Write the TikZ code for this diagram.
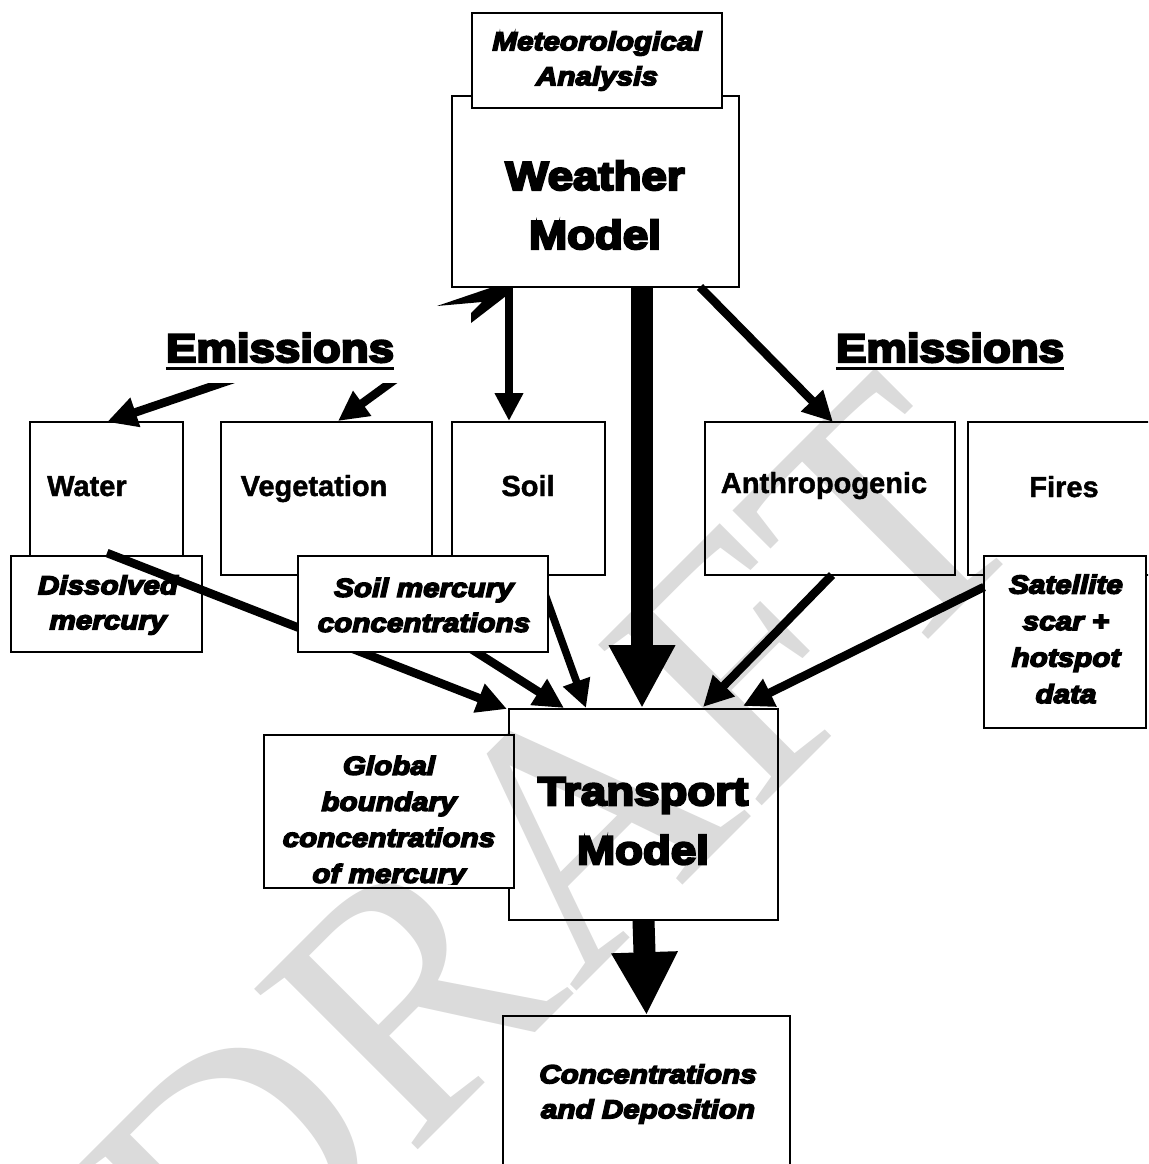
\documentclass[tikz,border=0pt]{standalone}
\usepackage{fontspec}
\usetikzlibrary{arrows.meta}
\newfontfamily\heavy{Liberation Sans Bold}[FakeStretch=1.14,FakeBold=6]
\newfontfamily\heavyit{Liberation Sans Bold Italic}[FakeStretch=1.14,FakeBold=6]
\newfontfamily\plainbold{Liberation Sans Bold}[FakeBold=1.5]
\newfontfamily\wmfont{Liberation Serif}
\tikzset{
  box/.style={draw=black, line width=1.6pt, fill=white, inner sep=0pt, rectangle},
  bigtext/.style={font={\heavy\fontsize{40}{59}\selectfont}, inner sep=0pt, align=center},
  itext/.style={font={\heavyit\fontsize{26}{35}\selectfont}, inner sep=0pt, align=center},
  lbl/.style={font={\plainbold\fontsize{29}{34}\selectfont}, inner sep=0pt},
  arr/.style={line width=8.5pt, -{Triangle[length=30pt,width=29pt]}},
  thinarr/.style={line width=7.5pt, -{Triangle[length=28pt,width=27pt]}},
  bigarr/.style={line width=22pt, -{Triangle[length=63pt,width=62pt]}},
}
\begin{document}
\begin{tikzpicture}[x=1pt,y=-1pt]
\useasboundingbox (0,0) rectangle (1148,1164);
\clip (0,0) rectangle (1148,1164);

% Weather model and meteorological analysis
\node[box, minimum width=287pt, minimum height=191pt] (weather) at (595.5,191.5) {};
\node[box, minimum width=250pt, minimum height=95pt] (met) at (597,60.5) {};
\node[itext] (mettxt) at (597,61) {Meteorological\\Analysis};
\node[bigtext] (weathertxt) at (595,205) {Weather\\Model};

% Emission source boxes
\node[box, minimum width=153pt, minimum height=154pt] (water) at (106.5,499) {};
\node[box, minimum width=211pt, minimum height=153pt] (veg) at (326.5,498.5) {};
\node[box, minimum width=153pt, minimum height=153pt] (soil) at (528.5,498.5) {};
\node[box, minimum width=250pt, minimum height=153pt] (anthro) at (830,498.5) {};
\node[box, minimum width=192pt, minimum height=153pt] (fires) at (1064,498.5) {};
\node[lbl, anchor=base west] (watertxt) at (47,496) {Water};
\node[lbl, anchor=base] (vegtxt) at (314,496) {Vegetation};
\node[lbl, anchor=base] (soiltxt) at (528,496) {Soil};
\node[lbl, anchor=base] (anthrotxt) at (824,493) {Anthropogenic};
\node[lbl, anchor=base] (firestxt) at (1064,497) {Fires};

% Emissions headings
\node[bigtext, anchor=base] (emL) at (280,362) {Emissions};
\node[bigtext, anchor=base] (emR) at (950,362) {Emissions};
\draw[line width=3pt] ([yshift=-6pt]emL.base west) -- ([yshift=-6pt]emL.base east);
\draw[line width=3pt] ([yshift=-6pt]emR.base west) -- ([yshift=-6pt]emR.base east);

% arrows from the emissions heading and the weather model
\coordinate (eW) at (260,370);
\coordinate (eV) at (408,370);
\coordinate (wtip) at (107,422);
\coordinate (vtip) at (338,421);
\begin{scope}
  \clip (0,383) rectangle (1148,1164);
  \draw[arr] (eW) -- (wtip);
  \draw[arr] (eV) -- (vtip);
\end{scope}
\coordinate (wsS) at (509,287);
\coordinate (soilN) at (509,421);
\draw[thinarr] (wsS) -- (soilN);
\coordinate (waS) at (700,287);
\coordinate (anthroN) at (833,422);
\draw[arr] (waS) -- (anthroN);
\fill (490,288) -- (437,306) -- (482,302) -- (471,313) -- (471,323) -- (506,296) -- (506,288) -- cycle;

% Dissolved mercury
\node[box, minimum width=191pt, minimum height=96pt] (dissolved) at (106.5,604) {};
\node[itext] (dissolvedtxt) at (108,605) {Dissolved\\mercury};

% connectors into transport model
\node[box, minimum width=269pt, minimum height=211pt] (transport) at (643.5,814.5) {};
\coordinate (waterOut) at (107,553);
\coordinate (t1) at (507,709);
\draw[arr] (waterOut) -- (t1);
\coordinate (vegOut) at (355,575);
\coordinate (t2) at (564,708);
\draw[arr] (vegOut) -- (t2);
\coordinate (soilOut) at (538,575);
\coordinate (t3) at (586,708);
\draw[thinarr] (soilOut) -- (t3);

% Soil mercury concentrations
\node[box, minimum width=249.5pt, minimum height=96pt] (soilmerc) at (423,604) {};
\node[itext] (soilmerctxt) at (424,605) {Soil mercury\\concentrations};

% Satellite
\node[box, minimum width=162pt, minimum height=172pt] (sat) at (1065,642) {};
\node[itext, font={\heavyit\fontsize{26}{36.5}\selectfont}] (sattxt) at (1066,639) {Satellite\\scar +\\hotspot\\data};

\coordinate (anthroOut) at (832,575);
\coordinate (t4) at (703,707);
\draw[arr] (anthroOut) -- (t4);
\coordinate (satOut) at (984,587);
\coordinate (t5) at (743,706);
\draw[arr] (satOut) -- (t5);

% Transport model and global boundary
\node[bigtext] (transporttxt) at (643,821) {Transport\\Model};
\node[box, minimum width=250pt, minimum height=153pt] (global) at (389,811.5) {};
\begin{scope}
  \clip (264,735) rectangle (514,884);
  \node[itext, font={\heavyit\fontsize{26}{36}\selectfont}] (globaltxt) at (389,822) {Global\\boundary\\concentrations\\of mercury};
\end{scope}

% big arrows
\coordinate (wbot) at (642,287);
\draw[bigarr] (wbot) -- (transport.north -| wbot);

% Concentrations and deposition
\node[box, minimum width=287pt, minimum height=164pt] (conc) at (646.5,1098) {};
\draw[bigarr] (transport.south) -- (conc.north);
\node[itext] (conctxt) at (648,1094) {Concentrations\\and Deposition};

% DRAFT watermark
\begin{scope}[blend mode=multiply]
  \node[font={\wmfont\fontsize{350}{350}\selectfont}, text=black!14, rotate=45, inner sep=0pt] (wm) at (555,850) {DRAFT};
\end{scope}
\end{tikzpicture}
\end{document}
